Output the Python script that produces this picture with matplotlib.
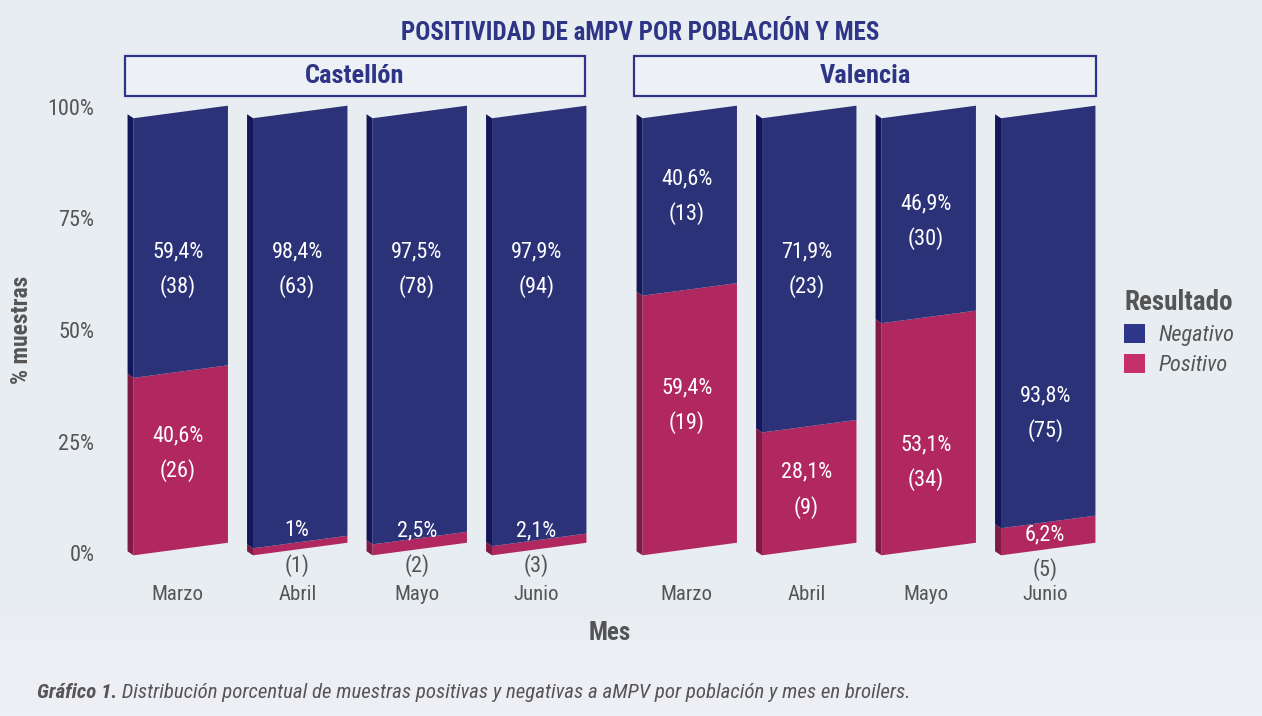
import numpy as np
import matplotlib
matplotlib.use("Agg")
import matplotlib.pyplot as plt
from matplotlib.patches import Polygon, Rectangle, Patch
from matplotlib import font_manager

# ---------------------------------------------------------------------------
# data
# ---------------------------------------------------------------------------
months = ["Marzo", "Abril", "Mayo", "Junio"]
poblaciones = ["Castellón", "Valencia"]

cas_pos = [40.6, 1.6, 2.5, 2.1]
cas_neg = [59.4, 98.4, 97.5, 97.9]
cas_pos_n = [26, 1, 2, 3]
cas_neg_n = [38, 63, 78, 94]
cas_pos_lbl = ["40,6%", "1%", "2,5%", "2,1%"]
cas_neg_lbl = ["59,4%", "98,4%", "97,5%", "97,9%"]

val_pos = [59.4, 28.1, 53.1, 6.2]
val_neg = [40.6, 71.9, 46.9, 93.8]
val_pos_n = [19, 9, 34, 5]
val_neg_n = [13, 23, 30, 75]
val_pos_lbl = ["59,4%", "28,1%", "53,1%", "6,2%"]
val_neg_lbl = ["40,6%", "71,9%", "46,9%", "93,8%"]

# where the label blocks sit (in % axis units), as seen in the picture
cas_pos_y = [22.4, 1.1, 1.1, 1.1]
cas_neg_y = [63.7, 63.7, 63.7, 63.7]
val_pos_y = [33.2, 14.2, 20.4, 0.2]
val_neg_y = [79.9, 63.7, 74.3, 31.4]

# ---------------------------------------------------------------------------
# style
# ---------------------------------------------------------------------------
NAVY = "#2b3278"
NAVY_SIDE = "#14165a"
PINK = "#b0285f"
PINK_SIDE = "#7e1a44"
LEG_NAVY = "#2e368a"
LEG_PINK = "#c5306a"
TITLE_C = "#2e3586"
GREY = "#555555"
BG = "#e8edf2"

avail = {f.name for f in font_manager.fontManager.ttflist}
FONT = "DejaVu Sans"
for fam in ["Liberation Sans Narrow", "Roboto Condensed", "Open Sans Condensed", "Noto Sans"]:
    if fam in avail:
        FONT = fam
        break
plt.rcParams["font.family"] = [FONT, "DejaVu Sans"]

W = 0.84      # full bar width incl. left face
SIDE = 0.05   # dark left face
TILT = 3.0    # rise of the top / bottom edge across one bar (% units)
LIFT = 0.9    # left face is pushed up a bit (pseudo-3D)
BASE = 0.8    # bars float a hair above the 0% line
SCALE = 0.98

FW, FH = 1262, 716


def fx(px):
    return px / FW


def fy(py):
    return 1 - py / FH


def draw_segment(ax, xc, y0, y1, face, side):
    k = TILT / W
    xl, xr = xc - W / 2, xc + W / 2
    xf = xl + SIDE
    front = [(xf, y0 + k * (xf - xc)), (xr, y0 + k * (xr - xc)),
             (xr, y1 + k * (xr - xc)), (xf, y1 + k * (xf - xc))]
    ax.add_patch(Polygon(front, closed=True, facecolor=face, edgecolor="none",
                         clip_on=False, zorder=2))
    sd = [(xl, front[0][1] + LIFT), (xf, front[0][1]),
          (xf, front[3][1]), (xl, front[3][1] + LIFT)]
    ax.add_patch(Polygon(sd, closed=True, facecolor=side, edgecolor="none",
                         clip_on=False, zorder=2))


def label_block(ax, x, y, top, bottom, c_top, c_bot):
    ax.annotate(top, (x, y), xytext=(0, 12.5), textcoords="offset points",
                ha="center", va="center", color=c_top, fontsize=16,
                annotation_clip=False, zorder=4)
    ax.annotate(bottom, (x, y), xytext=(0, -12.5), textcoords="offset points",
                ha="center", va="center", color=c_bot, fontsize=16,
                annotation_clip=False, zorder=4)


fig = plt.figure(figsize=(FW / 100, FH / 100), dpi=100)
fig.patch.set_facecolor(BG)

# faint lighter haze at the bottom of the page
bg = fig.add_axes([0, 0, 1, 1], zorder=-10)
grad = np.linspace(0, 1, 200)[:, None]
rgb0 = np.array([0xe8, 0xed, 0xf2]) / 255
rgb1 = np.array([0xef, 0xf0, 0xf5]) / 255
w = np.clip((grad - 0.82) / 0.18, 0, 1)
img = rgb0 * (1 - w[..., None]) + rgb1 * w[..., None]
bg.imshow(img * np.ones((200, 10, 3)), aspect="auto", extent=[0, 1, 1, 0])
bg.axis("off")

panels = [
    (118, cas_pos, cas_neg, cas_pos_n, cas_neg_n, cas_pos_lbl, cas_neg_lbl, cas_pos_y, cas_neg_y),
    (627, val_pos, val_neg, val_pos_n, val_neg_n, val_pos_lbl, val_neg_lbl, val_pos_y, val_neg_y),
]

y_bot = -(575 - 553) / 4.46
y_top = 100 + (107 - 100) / 4.46
axes = []
for p, (left, pos, neg, pn, nn, plbl, nlbl, py, ny) in enumerate(panels):
    ax = fig.add_axes([fx(left), fy(575), 478 / FW, 475 / FH])
    ax.set_facecolor("none")
    ax.set_xlim(-0.5, 3.5)
    ax.set_ylim(y_bot, y_top)
    for s in ax.spines.values():
        s.set_visible(False)
    x = np.arange(len(months))
    for i in range(len(months)):
        top_pos = BASE + pos[i] * SCALE
        top_all = BASE + (pos[i] + neg[i]) * SCALE
        draw_segment(ax, x[i], BASE, top_pos, PINK, PINK_SIDE)
        draw_segment(ax, x[i], top_pos, top_all, NAVY, NAVY_SIDE)
        small = pos[i] < 7
        label_block(ax, x[i], py[i], plbl[i], "(%d)" % pn[i], "white",
                    GREY if small else "white")
        label_block(ax, x[i], ny[i], nlbl[i], "(%d)" % nn[i], "white", "white")
    ax.set_xticks(x)
    ax.set_xticklabels(months, fontsize=15, color=GREY)
    ax.tick_params(axis="x", length=0, pad=7)
    if p == 0:
        ax.set_yticks([0, 25, 50, 75, 100])
        ax.set_yticklabels(["0%", "25%", "50%", "75%", "100%"], fontsize=16, color=GREY)
        ax.tick_params(axis="y", length=0, pad=17)
    else:
        ax.set_yticks([])
    axes.append(ax)

# facet strips
for name, x0, x1 in [(poblaciones[0], 125, 585), (poblaciones[1], 634, 1096)]:
    fig.add_artist(Rectangle((fx(x0), fy(96)), (x1 - x0) / FW, 40 / FH,
                             transform=fig.transFigure, facecolor="#edf1f5",
                             edgecolor=TITLE_C, lw=1.6))
    fig.text(fx((x0 + x1) / 2), fy(76), name, ha="center", va="center",
             fontsize=19, fontweight="bold", color=TITLE_C)

fig.text(fx(640), fy(33), "POSITIVIDAD DE aMPV POR POBLACIÓN Y MES", ha="center",
         va="center", fontsize=18, fontweight="bold", color=TITLE_C)
fig.text(fx(22), fy(330), "% muestras", rotation=90, ha="center", va="center",
         fontsize=17, fontweight="bold", color=GREY)
fig.text(fx(610), fy(633), "Mes", ha="center", va="center",
         fontsize=18, fontweight="bold", color=GREY)

handles = [Patch(facecolor=LEG_NAVY, label="Negativo"),
           Patch(facecolor=LEG_PINK, label="Positivo")]
leg = fig.legend(handles=handles, loc="upper left", bbox_to_anchor=(fx(1104), fy(269)),
                 frameon=False, title="Resultado", alignment="left",
                 prop={"style": "italic", "size": 16}, handlelength=0.95,
                 handleheight=0.95, handletextpad=0.6, labelspacing=0.35)
leg.get_title().set_fontsize(19.5)
leg.get_title().set_fontweight("bold")
leg.get_title().set_color(GREY)
for t in leg.get_texts():
    t.set_color(GREY)

cap = fig.text(fx(37), fy(693), "Gráfico 1.", ha="left", va="center", fontsize=15,
               fontweight="bold", style="italic", color=GREY)
axes[0].annotate(" Distribución porcentual de muestras positivas y negativas a aMPV por "
                 "población y mes en broilers.", xy=(1, 0), xycoords=cap,
                 ha="left", va="bottom", fontsize=15, style="italic", color=GREY,
                 annotation_clip=False)

fig.savefig("out.png", dpi=100, facecolor=BG)
